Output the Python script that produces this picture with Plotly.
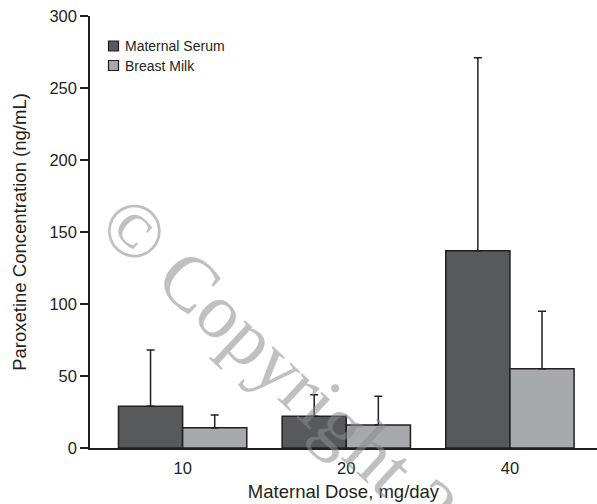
import plotly.graph_objects as go

# ---- data ----
doses = ["10", "20", "40"]
serum = [29, 22, 137]
serum_err = [39, 15, 134]
milk = [14, 16, 55]
milk_err = [9, 20, 40]
series_names = ["Maternal Serum", "Breast Milk"]
y_ticks = [0, 50, 100, 150, 200, 250, 300]

SERUM_C = "#58595b"
MILK_C = "#a7a9ac"
INK = "#231f20"

W, H = 597, 504
ML, MR, MT, MB = 90, 0, 16, 56
PW, PH = W - ML - MR, H - MT - MB


def px(x):
    return (x - ML) / PW


def py(y):
    return (H - MB - y) / PH


fig = go.Figure()
for name, vals, errs, col in [(series_names[0], serum, serum_err, SERUM_C),
                              (series_names[1], milk, milk_err, MILK_C)]:
    fig.add_trace(go.Bar(
        x=doses, y=vals, name=name, marker=dict(color=col, line=dict(color=INK, width=1.5)),
        error_y=dict(type="data", array=errs, arrayminus=[0] * len(errs), symmetric=False,
                     color=INK, thickness=1.5, width=4),
        showlegend=False,
    ))

fig.update_layout(
    width=W, height=H,
    margin=dict(l=ML, r=MR, t=MT, b=MB),
    paper_bgcolor="white", plot_bgcolor="white",
    barmode="group", bargap=0.216, bargroupgap=0,
    font=dict(family="Liberation Sans, Arial, sans-serif", color=INK, size=16),
    xaxis=dict(
        type="category", range=[-0.566, 2.532],
        showline=True, linecolor=INK, linewidth=1.5,
        ticks="outside", ticklen=4, tickcolor="rgba(0,0,0,0)",
        showgrid=False, zeroline=False,
        tickfont=dict(size=16.5),
        title=dict(text="Maternal Dose, mg/day", font=dict(size=18.5), standoff=10),
        automargin=False,
    ),
    yaxis=dict(
        range=[0, 300], tickvals=y_ticks,
        showline=True, linecolor=INK, linewidth=1.5,
        ticks="outside", ticklen=8, tickwidth=1.5, tickcolor=INK,
        showgrid=False, zeroline=False,
        tickfont=dict(size=16.5),
        title=dict(text="Paroxetine Concentration (ng/mL)", font=dict(size=18.5), standoff=18),
        automargin=False,
    ),
)

# legend (manual, to match compact swatch spacing)
legend_rows = [(series_names[0], SERUM_C, 46), (series_names[1], MILK_C, 65.5)]
for label, col, yc in legend_rows:
    fig.add_shape(type="rect", xref="paper", yref="paper",
                  x0=px(108.5), x1=px(118.5), y0=py(yc - 5), y1=py(yc + 5),
                  fillcolor=col, line=dict(color=INK, width=1.2))
    fig.add_annotation(xref="paper", yref="paper", x=px(123), y=py(yc),
                       xanchor="left", yanchor="middle", showarrow=False,
                       text=label, font=dict(size=14, color=INK))

# watermark
fig.add_annotation(xref="paper", yref="paper", x=px(322), y=py(404),
                   xanchor="center", yanchor="middle", showarrow=False,
                   text="© Copyright 2012", textangle=43,
                   font=dict(family="Liberation Serif, Times New Roman, serif", size=78,
                             color="rgba(140,140,140,0.55)"))

fig.write_html("out.html", config={"displayModeBar": False},
               post_script="document.body.style.margin='0px';")
